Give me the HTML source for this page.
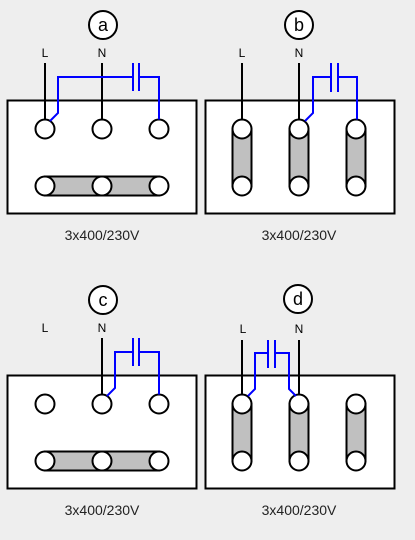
<!DOCTYPE html>
<html><head><style>
html,body{margin:0;padding:0;background:#eeeeee;}
svg{display:block;font-family:"Liberation Sans",sans-serif;}
</style></head><body>
<svg width="415" height="540" viewBox="0 0 415 540" xmlns="http://www.w3.org/2000/svg">
<g stroke="#000" stroke-width="2" fill="#fff">
<!-- a -->
<rect x="7.5" y="100.5" width="189" height="113"/>
<rect x="45" y="176.5" width="114" height="19" fill="#c0c0c0"/>
<circle cx="45" cy="129" r="9.5"/><circle cx="102" cy="129" r="9.5"/><circle cx="159" cy="129" r="9.5"/>
<circle cx="45" cy="186" r="9.5"/><circle cx="102" cy="186" r="9.5"/><circle cx="159" cy="186" r="9.5"/>
<line x1="45" y1="63" x2="45" y2="119.5"/><line x1="102" y1="63" x2="102" y2="119.5"/>
<circle cx="103" cy="25" r="14"/>
<!-- b -->
<rect x="205.5" y="100.5" width="189" height="113"/>
<rect x="232.5" y="129" width="19" height="57" fill="#c0c0c0"/>
<rect x="289.5" y="129" width="19" height="57" fill="#c0c0c0"/>
<rect x="346.5" y="129" width="19" height="57" fill="#c0c0c0"/>
<circle cx="242" cy="129" r="9.5"/><circle cx="299" cy="129" r="9.5"/><circle cx="356" cy="129" r="9.5"/>
<circle cx="242" cy="186" r="9.5"/><circle cx="299" cy="186" r="9.5"/><circle cx="356" cy="186" r="9.5"/>
<line x1="242" y1="63" x2="242" y2="119.5"/><line x1="299" y1="63" x2="299" y2="119.5"/>
<circle cx="299" cy="25" r="14"/>
<!-- c -->
<rect x="7.5" y="375.5" width="189" height="113"/>
<rect x="45" y="451.5" width="114" height="19" fill="#c0c0c0"/>
<circle cx="45" cy="404" r="9.5"/><circle cx="102" cy="404" r="9.5"/><circle cx="159" cy="404" r="9.5"/>
<circle cx="45" cy="461" r="9.5"/><circle cx="102" cy="461" r="9.5"/><circle cx="159" cy="461" r="9.5"/>
<line x1="102" y1="338" x2="102" y2="394.5"/>
<circle cx="103" cy="300" r="14"/>
<!-- d -->
<rect x="205.5" y="375.5" width="189" height="113"/>
<rect x="232.5" y="404" width="19" height="57" fill="#c0c0c0"/>
<rect x="289.5" y="404" width="19" height="57" fill="#c0c0c0"/>
<rect x="346.5" y="404" width="19" height="57" fill="#c0c0c0"/>
<circle cx="242" cy="404" r="9.5"/><circle cx="299" cy="404" r="9.5"/><circle cx="356" cy="404" r="9.5"/>
<circle cx="242" cy="461" r="9.5"/><circle cx="299" cy="461" r="9.5"/><circle cx="356" cy="461" r="9.5"/>
<line x1="242" y1="340" x2="242" y2="394.5"/><line x1="299" y1="340" x2="299" y2="394.5"/>
<circle cx="298" cy="299" r="14"/>
</g>
<g stroke="#0000ff" stroke-width="2" fill="none">
<polyline points="50,121 58,113 58,77 133,77"/><polyline points="139,77 159,77 159,119.5"/>
<line x1="133" y1="63" x2="133" y2="91"/><line x1="139" y1="63" x2="139" y2="91"/>
<polyline points="305,121 313,113 313,77 331,77"/><polyline points="338,77 357,77 357,119.5"/>
<line x1="331" y1="63" x2="331" y2="92"/><line x1="338" y1="63" x2="338" y2="92"/>
<polyline points="107,396 115,388 115,352 133,352"/><polyline points="139,352 159,352 159,394.5"/>
<line x1="133" y1="338" x2="133" y2="366"/><line x1="139" y1="338" x2="139" y2="366"/>
<polyline points="248,396 255,389 255,353 268,353"/><polyline points="275,353 289,353 289,389 296,396"/>
<line x1="268" y1="340" x2="268" y2="368"/><line x1="275" y1="340" x2="275" y2="368"/>
</g>
<g font-size="12" text-anchor="middle" fill="#000">
<text x="45" y="57">L</text><text x="102" y="57">N</text>
<text x="242" y="57">L</text><text x="299" y="57">N</text>
<text x="45" y="332">L</text><text x="102" y="332">N</text>
<text x="243" y="333">L</text><text x="299" y="333">N</text>
</g>
<g font-size="18" text-anchor="middle" fill="#000">
<text x="103" y="31">a</text><text x="299" y="31">b</text>
<text x="103" y="306">c</text><text x="298" y="305">d</text>
</g>
<g font-size="14" text-anchor="middle" fill="#222">
<text x="102" y="240">3x400/230V</text><text x="299" y="240">3x400/230V</text>
<text x="102" y="515">3x400/230V</text><text x="299" y="515">3x400/230V</text>
</g>
</svg>
</body></html>
